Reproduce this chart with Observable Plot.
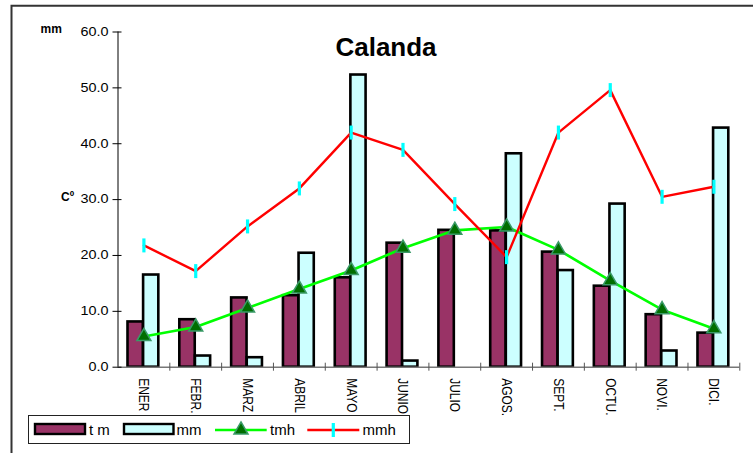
<!DOCTYPE html>
<html><head><meta charset="utf-8">
<script src="https://cdn.jsdelivr.net/npm/d3@7"></script>
<script src="https://cdn.jsdelivr.net/npm/@observablehq/plot@0.6"></script>
<style>
body{margin:0;background:#fff;}
#wrap{position:relative;width:753px;height:453px;overflow:hidden;background:#fff;font-family:Arial,"Liberation Sans",sans-serif;}
#wrap > svg{position:absolute;left:0;top:0;}
</style></head><body><div id="wrap"></div>
<script>
const months = ["ENER","FEBR.","MARZ","ABRIL","MAYO","JUNIO","JULIO","AGOS.","SEPT.","OCTU.","NOVI.","DICI."];
const tm  = [8.1, 8.5, 12.4, 12.8, 16.0, 22.2, 24.5, 24.4, 20.6, 14.5, 9.4, 6.1];
const mm  = [16.5, 2.0, 1.7, 20.4, 52.3, 1.1, 0, 38.2, 17.3, 29.2, 2.9, 42.8];
const tmh = [5.5, 7.2, 10.6, 14.0, 17.3, 21.3, 24.5, 25.1, 21.0, 15.5, 10.3, 6.9];
const mmh = [21.8, 17.2, 25.2, 32.0, 42.0, 38.9, 29.2, 19.7, 42.0, 49.6, 30.5, 32.3];
const yTicks = [0, 10, 20, 30, 40, 50, 60];
const seriesNames = ["t m", "mm", "tmh", "mmh"];
const colors = {tm: "#993366", mm: "#ccffff", tmh: "#00ff00", tmhMark: "#006e00", mmh: "#ff0000", mmhMark: "#00ffff"};

const rows = months.map((m, i) => ({i, month: m, tm: tm[i], mm: mm[i], tmh: tmh[i], mmh: mmh[i]}));
const center = d => d.i + 0.5;
const tickSymbol = {draw(ctx) { ctx.rect(-1.6, -7, 3.2, 14); }};

const font = "Arial, 'Liberation Sans', sans-serif";
const chart = Plot.plot({
  width: 753, height: 453,
  marginLeft: 117.5, marginRight: 13.7, marginTop: 31.5, marginBottom: 86.3,
  style: {fontFamily: font, fontSize: "12px", background: "transparent", color: "#000"},
  x: {domain: [0, 12], axis: null},
  y: {domain: [0, 60], axis: null},
  marks: [
    Plot.rectY(rows, {x1: "i", x2: d => d.i + 1, y: "tm", fill: colors.tm, stroke: "#000", strokeWidth: 2.6, insetLeft: 10, insetRight: 26.4}),
    Plot.rectY(rows.filter(d => d.mm > 0), {x1: "i", x2: d => d.i + 1, y: "mm", fill: colors.mm, stroke: "#000", strokeWidth: 2.6, insetLeft: 25.6, insetRight: 11}),
    Plot.ruleY([0], {stroke: "#777", strokeWidth: 1.5}),
    Plot.ruleX([0], {stroke: "#000", strokeWidth: 1}),
    Plot.axisY(yTicks, {tickSize: 9, dx: 4, fill: "none", label: null, stroke: "#000"}),
    Plot.axisY(yTicks, {tickSize: 0, tickPadding: 9.5, tickFormat: d => d.toFixed(1), label: null, fontSize: 12, stroke: "none"}),
    Plot.axisX(d3.range(1, 13), {tickSize: 8, dy: -4, fill: "none", label: null, stroke: "#555"}),
    Plot.axisX(months.map((m, i) => i + 0.5), {tickSize: 0, tickPadding: 11, tickRotate: 90, tickFormat: d => months[Math.floor(d)], label: null, fontSize: 12, stroke: "none"}),
    Plot.line(rows, {x: center, y: "tmh", stroke: colors.tmh, strokeWidth: 2.7}),
    Plot.dot(rows, {x: center, y: "tmh", symbol: "triangle", r: 5.2, fill: colors.tmhMark, stroke: "#3a9a68", strokeWidth: 1.5}),
    Plot.line(rows, {x: center, y: "mmh", stroke: colors.mmh, strokeWidth: 2.4}),
    Plot.dot(rows, {x: center, y: "mmh", symbol: tickSymbol, r: 5, fill: colors.mmhMark, stroke: "none"})
  ]
});
const wrap = document.getElementById("wrap");
wrap.appendChild(chart);

// widen tick label glyphs horizontally, as in the reference picture
d3.select(chart).selectAll('g[aria-label$="tick label"] text').each(function() {
  const el = d3.select(this);
  let t = el.attr("transform");
  if (!t) {
    const x = +el.attr("x") || 0, y = +el.attr("y") || 0;
    el.attr("x", null).attr("y", null);
    t = `translate(${x},${y})`;
  }
  el.attr("transform", t.includes("rotate") ? t + " scale(1,1.2)" : t + " scale(1.2,1)");
});

// overlay: frame, title, unit labels, legend
const ov = d3.select(wrap).append("svg").attr("width", 753).attr("height", 453)
  .style("font-family", font);
ov.append("path").attr("d", "M11.5,453V5.8H753").attr("fill", "none").attr("stroke", "#333").attr("stroke-width", 2);
ov.append("text").attr("x", 386).attr("y", 56).attr("text-anchor", "middle")
  .attr("font-weight", "bold").attr("font-size", 26).text("Calanda");
ov.append("text").attr("x", 40.5).attr("y", 32.6).attr("font-weight", "bold").attr("font-size", 12).text("mm");
ov.append("text").attr("x", 61).attr("y", 201).attr("font-weight", "bold").attr("font-size", 12).text("Cº");

const lg = ov.append("g");
lg.append("rect").attr("x", 28.5).attr("y", 415.5).attr("width", 381).attr("height", 28)
  .attr("fill", "#fff").attr("stroke", "#222").attr("stroke-width", 1);
lg.append("rect").attr("x", 35).attr("y", 424).attr("width", 50).attr("height", 10)
  .attr("fill", colors.tm).attr("stroke", "#000").attr("stroke-width", 2.4);
lg.append("rect").attr("x", 124).attr("y", 424).attr("width", 49.5).attr("height", 10)
  .attr("fill", colors.mm).attr("stroke", "#000").attr("stroke-width", 2.4);
lg.append("line").attr("x1", 215).attr("x2", 266.7).attr("y1", 430).attr("y2", 430)
  .attr("stroke", colors.tmh).attr("stroke-width", 2.7);
lg.append("path").attr("d", d3.symbol(d3.symbolTriangle, 85)()).attr("transform", "translate(241,430)")
  .attr("fill", colors.tmhMark).attr("stroke", "#3a9a68").attr("stroke-width", 1.5);
lg.append("line").attr("x1", 307.3).attr("x2", 359.3).attr("y1", 430).attr("y2", 430)
  .attr("stroke", colors.mmh).attr("stroke-width", 2.4);
lg.append("rect").attr("x", 331.7).attr("y", 423).attr("width", 3.2).attr("height", 14).attr("fill", colors.mmhMark);
const lx = [89, 176.5, 270, 362.5];
seriesNames.forEach((s, k) => {
  lg.append("text").attr("x", lx[k]).attr("y", 435).attr("font-size", 15).text(s);
});
</script>
</body></html>
